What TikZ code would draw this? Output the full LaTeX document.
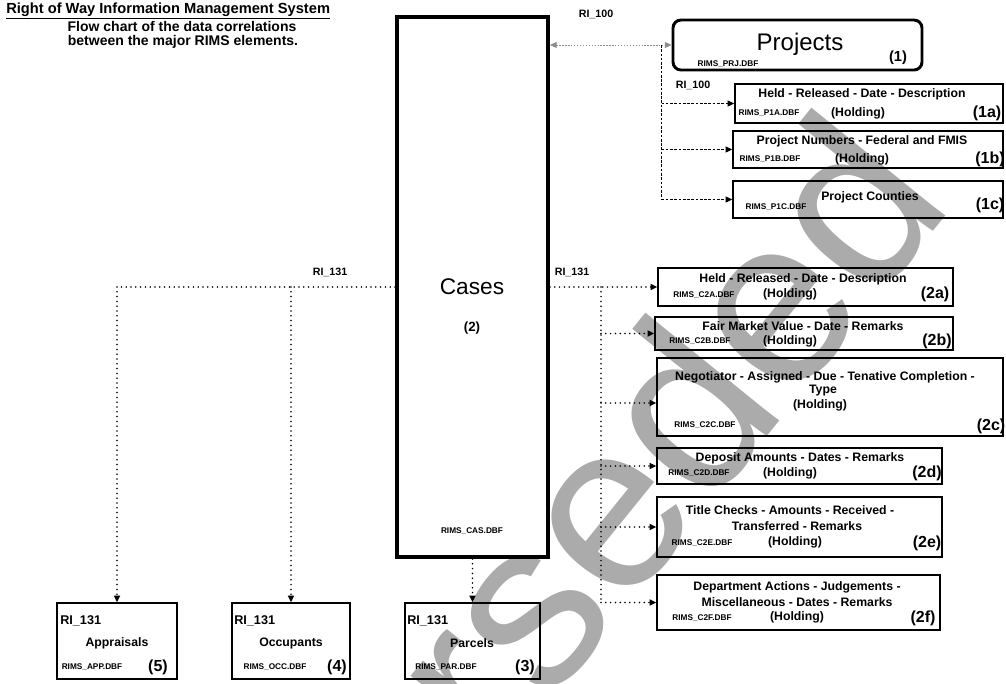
\documentclass[tikz,border=0pt]{standalone}
\usepackage{fontspec}
\setmainfont{Liberation Sans}
\usetikzlibrary{arrows.meta,fit}
\tikzset{
  box/.style={draw, line width=1.1pt, inner sep=0pt},
  casebox/.style={draw, line width=3pt, inner sep=0pt},
  prjbox/.style={draw, line width=2.2pt, rounded corners=6pt, inner sep=0pt},
  txt/.style={inner sep=0pt, font=\fontsize{9.2}{11}\selectfont\bfseries},
  fname/.style={inner sep=0pt, font=\fontsize{6.2}{7}\selectfont\bfseries},
  num/.style={inner sep=0pt, font=\fontsize{12}{13}\selectfont\bfseries},
  lbl/.style={inner sep=0pt, font=\fontsize{8}{9}\selectfont\bfseries},
  boxlbl/.style={inner sep=0pt, anchor=west, font=\fontsize{9.5}{10}\selectfont\bfseries},
  big/.style={inner sep=0pt, font=\fontsize{17}{18}\selectfont},
  head/.style={inner sep=0pt, font=\fontsize{10.5}{12}\selectfont\bfseries},
  tip/.style={-{Triangle[length=5pt,width=4.5pt]}},
  dotline/.style={line width=1.3pt, dash pattern=on 0pt off 3.6pt, line cap=round},
  dashline/.style={line width=0.8pt, dash pattern=on 2pt off 1.2pt},
  greydot/.style={line width=0.7pt, draw=black!45, dash pattern=on 1pt off 1.2pt},
  wmark/.style={inner sep=0pt, text=black!33, font=\fontsize{178}{180}\selectfont}
}
\begin{document}
\begin{tikzpicture}[x=0.75pt,y=-0.75pt]
\useasboundingbox (0,0) rectangle (1006,683);
\begin{scope}
\clip (0,0) rectangle (1006,683);
\node[wmark, rotate=51] (wm) at (505,662) {Superseded};
\end{scope}

% title
\node[head, anchor=west, font=\fontsize{11}{12}\selectfont\bfseries] (ttl) at (6,11) {\underline{Right of Way Information Management System}};
\node[head] (sub1) at (182,26) {Flow chart of the data correlations};
\node[head] (sub2) at (183,42) {between the major RIMS elements.};

% Cases
\node[casebox, fit={(397,17) (548,557)}] (cases) {};
\node[big] (casesT) at (472,287) {Cases};
\node[head, font=\fontsize{10}{12}\selectfont\bfseries] (casesN) at (472,328) {(2)};
\node[fname] (casesF) at (472,531) {RIMS\_CAS.DBF};

% Projects
\node[prjbox, fit={(673,20) (922,70)}] (prj) {};
\node[big, font=\fontsize{18}{19}\selectfont] (prjT) at (800,44) {Projects};
\node[num, font=\fontsize{11}{12}\selectfont\bfseries] (prjN) at (898,58) {(1)};
\node[fname] (prjF) at (728,64) {RIMS\_PRJ.DBF};

% 1a-1c
\node[box, fit={(735,84) (1003,123)}] (p1a) {};
\node[txt] (p1aT) at (862,94) {Held - Released - Date - Description};
\node[fname] (p1aF) at (769,113) {RIMS\_P1A.DBF};
\node[txt] (p1aH) at (858,113) {(Holding)};
\node[num] (p1aN) at (987,113) {(1a)};

\node[box, fit={(733,131) (1003,168)}] (p1b) {};
\node[txt] (p1bT) at (862,141) {Project Numbers - Federal and FMIS};
\node[fname] (p1bF) at (770,159) {RIMS\_P1B.DBF};
\node[txt] (p1bH) at (862,159) {(Holding)};
\node[num] (p1bN) at (990,159) {(1b)};

\node[box, fit={(733,181) (1003,218)}] (p1c) {};
\node[txt] (p1cT) at (870,197) {Project Counties};
\node[fname] (p1cF) at (776,207) {RIMS\_P1C.DBF};
\node[num] (p1cN) at (990,205) {(1c)};

% 2a-2f
\node[box, fit={(658,268) (953,306)}] (c2a) {};
\node[txt] (c2aT) at (803,279) {Held - Released - Date - Description};
\node[fname] (c2aF) at (704,295) {RIMS\_C2A.DBF};
\node[txt] (c2aH) at (790,294) {(Holding)};
\node[num] (c2aN) at (935,294) {(2a)};

\node[box, fit={(655,317) (953,350)}] (c2b) {};
\node[txt] (c2bT) at (803,326) {Fair Market Value - Date - Remarks};
\node[fname] (c2bF) at (700,341) {RIMS\_C2B.DBF};
\node[txt] (c2bH) at (790,341) {(Holding)};
\node[num] (c2bN) at (937,341) {(2b)};

\node[box, fit={(657,358) (1003,436)}] (c2c) {};
\node[txt] (c2cT1) at (825,377) {Negotiator - Assigned - Due - Tenative Completion -};
\node[txt] (c2cT2) at (823,391) {Type};
\node[txt] (c2cH) at (820,405) {(Holding)};
\node[fname] (c2cF) at (705,425) {RIMS\_C2C.DBF};
\node[num] (c2cN) at (991,426) {(2c)};

\node[box, fit={(657,448) (942,484)}] (c2d) {};
\node[txt] (c2dT) at (800,458) {Deposit Amounts - Dates - Remarks};
\node[fname] (c2dF) at (699,473) {RIMS\_C2D.DBF};
\node[txt] (c2dH) at (790,473) {(Holding)};
\node[num] (c2dN) at (927,473) {(2d)};

\node[box, fit={(657,497) (942,557)}] (c2e) {};
\node[txt] (c2eT1) at (790,510) {Title Checks - Amounts - Received -};
\node[txt] (c2eT2) at (797,526) {Transferred - Remarks};
\node[fname] (c2eF) at (702,543) {RIMS\_C2E.DBF};
\node[txt] (c2eH) at (795,542) {(Holding)};
\node[num] (c2eN) at (927,543) {(2e)};

\node[box, fit={(657,575) (940,630)}] (c2f) {};
\node[txt] (c2fT1) at (797,587) {Department Actions - Judgements -};
\node[txt] (c2fT2) at (797,602) {Miscellaneous - Dates - Remarks};
\node[fname] (c2fF) at (702,618) {RIMS\_C2F.DBF};
\node[txt] (c2fH) at (797,617) {(Holding)};
\node[num] (c2fN) at (923,618) {(2f)};

% bottom boxes
\node[box, fit={(57,603) (177,679)}] (app) {};
\node[boxlbl] (appL) at (60,621) {RI\_131};
\node[txt] (appT) at (117,643) {Appraisals};
\node[fname] (appF) at (92,667) {RIMS\_APP.DBF};
\node[num] (appN) at (158,667) {(5)};

\node[box, fit={(232,603) (350,679)}] (occ) {};
\node[boxlbl] (occL) at (234,621) {RI\_131};
\node[txt] (occT) at (291,643) {Occupants};
\node[fname] (occF) at (275,667) {RIMS\_OCC.DBF};
\node[num] (occN) at (337,667) {(4)};

\node[box, fit={(405,603) (540,679)}] (par) {};
\node[boxlbl] (parL) at (407,621) {RI\_131};
\node[txt] (parT) at (472,643) {Parcels};
\node[fname] (parF) at (446,667) {RIMS\_PAR.DBF};
\node[num] (parN) at (525,667) {(3)};

% labels
\node[lbl] (l100a) at (596,14) {RI\_100};
\node[lbl] (l100b) at (693,85) {RI\_100};
\node[lbl] (l131l) at (330,272) {RI\_131};
\node[lbl] (l131r) at (572,272) {RI\_131};

% connectors: projects
\draw[greydot, {Triangle[length=5pt,width=4.5pt]}-{Triangle[length=5pt,width=4.5pt]}] (cases.east |- prj.west) -- (prj.west);
\coordinate (jp) at ([xshift=-7.5pt]prj.west);
\draw[dashline] (jp) -- (jp |- p1c.west);
\foreach \b in {p1a,p1b,p1c} \draw[dashline, tip] (jp |- \b.west) -- (\b.west);

% connectors: cases left
\coordinate (jl) at (app.north |- cases.west);
\coordinate (jo) at (occ.north |- cases.west);
\draw[dotline] (cases.west) -- (jl);
\draw[dotline, tip] (jl) -- (app.north);
\draw[dotline, tip] (jo) -- (occ.north);
\draw[dotline, tip] (cases.south) -- (par.north);

% connectors: cases right
\coordinate (jr) at (601,287);
\draw[dotline, tip] (cases.east) -- (c2a.west);
\draw[dotline] (jr) -- (jr |- c2f.west);
\foreach \b in {c2b,c2d,c2e,c2f} \draw[dotline, tip] (jr |- \b.west) -- (\b.west);
\draw[dotline, tip] ([yshift=-4.5pt]jr |- c2c.west) -- ([yshift=-4.5pt]c2c.west);
\end{tikzpicture}
\end{document}
